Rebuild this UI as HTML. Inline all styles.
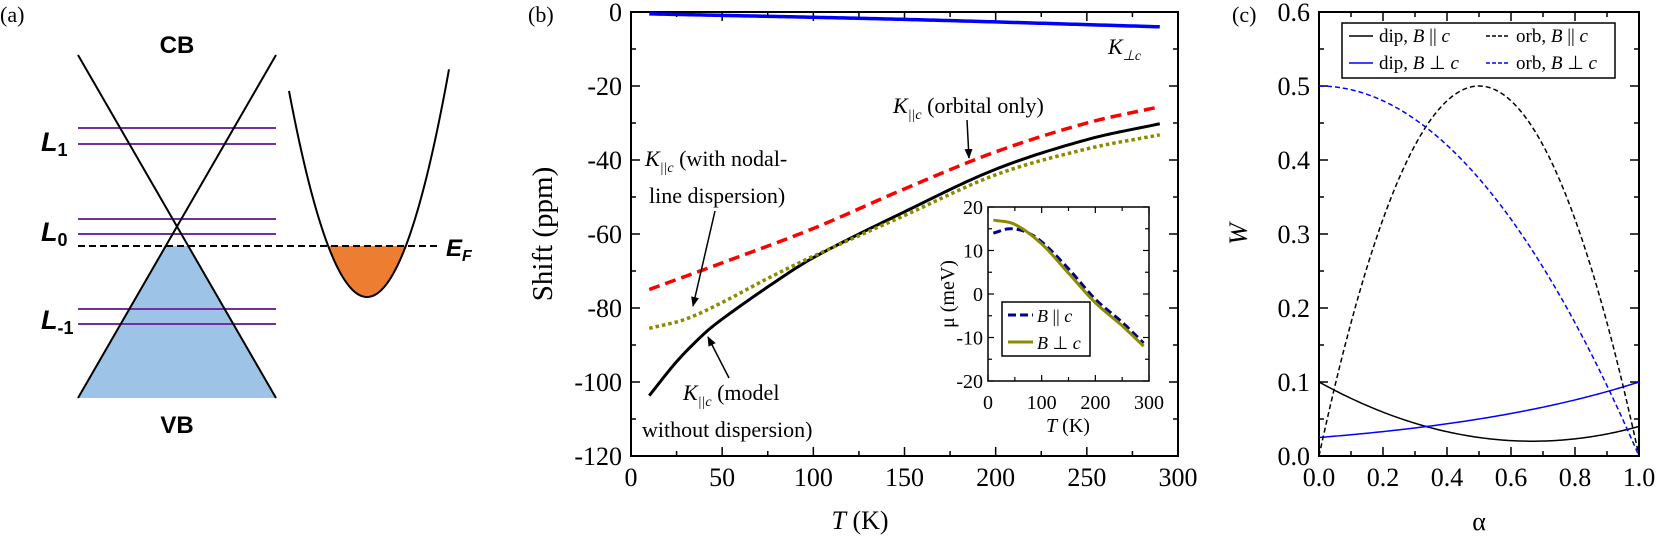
<!DOCTYPE html>
<html><head><meta charset="utf-8"><style>
html,body{margin:0;padding:0;background:#fff;}
svg{display:block;}
.s{font-family:"Liberation Serif",serif;}
.a{font-family:"Liberation Sans",sans-serif;font-weight:bold;}
</style></head><body>
<svg id="svg" width="1661" height="539" viewBox="0 0 1661 539" xmlns="http://www.w3.org/2000/svg">
<defs>
<marker id="ar" markerWidth="10" markerHeight="10" refX="9" refY="5" orient="auto" markerUnits="userSpaceOnUse">
<path d="M0,1 L10,5 L0,9 Z" fill="#000"/></marker>
</defs>
<!-- Panel a -->
<text x="0" y="22" class="s" font-size="22">(a)</text>
<polygon points="166,246 188,246 276,398 78,398" fill="#9dc3e6"/>
<g stroke="#7030a0" stroke-width="2">
<line x1="78" y1="128" x2="276" y2="128"/><line x1="78" y1="144" x2="276" y2="144"/>
<line x1="78" y1="219" x2="276" y2="219"/><line x1="78" y1="234" x2="276" y2="234"/>
<line x1="78" y1="309" x2="276" y2="309"/><line x1="78" y1="324" x2="276" y2="324"/>
</g>
<g stroke="#000" stroke-width="2" fill="none">
<line x1="78" y1="55" x2="276" y2="398"/>
<line x1="276" y1="55" x2="78" y2="398"/>
</g>
<path id="orange" fill="#ed7d31" stroke="none"/>
<path id="parab" fill="none" stroke="#000" stroke-width="2"/>
<line x1="78" y1="246" x2="441" y2="246" stroke="#000" stroke-width="2" stroke-dasharray="7,4"/>
<text x="177" y="53" class="a" font-size="24" text-anchor="middle">CB</text>
<text x="177" y="433" class="a" font-size="24" text-anchor="middle">VB</text>
<text x="41" y="151" class="a" font-size="27" font-style="italic">L<tspan font-size="18" font-style="normal" dy="5">1</tspan></text>
<text x="41" y="241" class="a" font-size="27" font-style="italic">L<tspan font-size="18" font-style="normal" dy="5">0</tspan></text>
<text x="41" y="329" class="a" font-size="27" font-style="italic">L<tspan font-size="18" font-style="normal" dy="5">-1</tspan></text>
<text x="446" y="256" class="a" font-size="24" font-style="italic">E<tspan font-size="16" dy="5">F</tspan></text>

<!-- Panel b -->
<text x="528" y="22" class="s" font-size="22">(b)</text>
<g id="bax"></g>
<rect x="631" y="12" width="547" height="444" fill="none" stroke="#000" stroke-width="2"/>
<text transform="translate(552,234) rotate(-90)" class="s" font-size="29" text-anchor="middle">Shift (ppm)</text>
<text x="860" y="529" class="s" font-size="26" text-anchor="middle"><tspan font-style="italic">T</tspan> (K)</text>
<path id="bBlue" fill="none" stroke="#0000ff" stroke-width="3.5"/>
<path id="bRed" fill="none" stroke="#ff0000" stroke-width="3.5" stroke-dasharray="11,6"/>
<path id="bBlack" fill="none" stroke="#000" stroke-width="3"/>
<path id="bOlive" fill="none" stroke="#8b8b00" stroke-width="3.5" stroke-dasharray="3.5,3"/>
<text x="1108" y="54" class="s" font-size="22" font-style="italic">K<tspan font-size="14" dy="6">⊥c</tspan></text>
<text x="893" y="113" class="s" font-size="22"><tspan font-style="italic">K</tspan><tspan font-size="14" font-style="italic" dy="6">||c</tspan><tspan dy="-6"> (orbital only)</tspan></text>
<line x1="967" y1="120" x2="969" y2="158" stroke="#000" stroke-width="1.5" marker-end="url(#ar)"/>
<text x="645" y="166" class="s" font-size="22"><tspan font-style="italic">K</tspan><tspan font-size="14" font-style="italic" dy="6">||c</tspan><tspan dy="-6"> (with nodal-</tspan></text>
<text x="649" y="203" class="s" font-size="22">line dispersion)</text>
<line x1="715" y1="211" x2="693" y2="306" stroke="#000" stroke-width="1.5" marker-end="url(#ar)"/>
<text x="683" y="400" class="s" font-size="22"><tspan font-style="italic">K</tspan><tspan font-size="14" font-style="italic" dy="6">||c</tspan><tspan dy="-6"> (model</tspan></text>
<text x="642" y="437" class="s" font-size="22">without dispersion)</text>
<line x1="729" y1="378" x2="708" y2="337" stroke="#000" stroke-width="1.5" marker-end="url(#ar)"/>

<!-- inset -->
<rect x="988" y="207" width="161" height="174" fill="#fff" stroke="#000" stroke-width="1.5"/>
<g id="iax"></g>
<path id="iBlue" fill="none" stroke="#00008b" stroke-width="3" stroke-dasharray="8,4"/>
<path id="iOlive" fill="none" stroke="#8b8b00" stroke-width="3"/>
<text transform="translate(954,294) rotate(-90)" class="s" font-size="20" text-anchor="middle">μ (meV)</text>
<text x="1068" y="432" class="s" font-size="20" text-anchor="middle"><tspan font-style="italic">T</tspan> (K)</text>
<rect x="1002" y="302" width="88" height="54" fill="#fff" stroke="#000" stroke-width="1.5"/>
<line x1="1008" y1="315" x2="1033" y2="315" stroke="#00008b" stroke-width="3" stroke-dasharray="8,4"/>
<line x1="1008" y1="342" x2="1033" y2="342" stroke="#8b8b00" stroke-width="3"/>
<text x="1037" y="322" class="s" font-size="18"><tspan font-style="italic">B</tspan> || <tspan font-style="italic">c</tspan></text>
<text x="1037" y="349" class="s" font-size="18"><tspan font-style="italic">B</tspan> ⊥ <tspan font-style="italic">c</tspan></text>

<!-- Panel c -->
<text x="1232" y="22" class="s" font-size="22">(c)</text>
<g id="cax"></g>
<rect x="1319" y="12" width="320" height="444" fill="none" stroke="#000" stroke-width="2"/>
<text transform="translate(1247,234) rotate(-90)" class="s" font-size="26" font-style="italic" text-anchor="middle">W</text>
<text x="1479" y="530" class="s" font-size="26" text-anchor="middle">α</text>
<path id="c1" fill="none" stroke="#000" stroke-width="1.5"/>
<path id="c2" fill="none" stroke="#0000ff" stroke-width="1.5"/>
<path id="c3" fill="none" stroke="#000" stroke-width="1.5" stroke-dasharray="5,3"/>
<path id="c4" fill="none" stroke="#0000ff" stroke-width="1.5" stroke-dasharray="5,3"/>
<rect x="1342" y="23" width="273" height="55" fill="#fff" stroke="#000" stroke-width="1.5"/>
<line x1="1349" y1="36" x2="1373" y2="36" stroke="#000" stroke-width="1.5"/>
<line x1="1349" y1="63" x2="1373" y2="63" stroke="#0000ff" stroke-width="1.5"/>
<line x1="1486" y1="36" x2="1510" y2="36" stroke="#000" stroke-width="1.5" stroke-dasharray="4,2"/>
<line x1="1486" y1="63" x2="1510" y2="63" stroke="#0000ff" stroke-width="1.5" stroke-dasharray="4,2"/>
<text x="1379" y="42" class="s" font-size="19">dip, <tspan font-style="italic">B</tspan> || <tspan font-style="italic">c</tspan></text>
<text x="1379" y="69" class="s" font-size="19">dip, <tspan font-style="italic">B</tspan> ⊥ <tspan font-style="italic">c</tspan></text>
<text x="1516" y="42" class="s" font-size="19">orb, <tspan font-style="italic">B</tspan> || <tspan font-style="italic">c</tspan></text>
<text x="1516" y="69" class="s" font-size="19">orb, <tspan font-style="italic">B</tspan> ⊥ <tspan font-style="italic">c</tspan></text>
</svg>
<script>
var NS="http://www.w3.org/2000/svg";
function el(p,t,a,txt){var e=document.createElementNS(NS,t);for(var k in a)e.setAttribute(k,a[k]);if(txt!==undefined)e.textContent=txt;p.appendChild(e);return e;}
function fpath(f,x0,x1,n){var d="";for(var i=0;i<=n;i++){var x=x0+(x1-x0)*i/n;var p=f(x);d+=(i?"L":"M")+p[0].toFixed(2)+","+p[1].toFixed(2);}return d;}
function spline(pts){
 return function(x){for(var i=0;i<pts.length-1;i++){if(x<=pts[i+1][0]||i==pts.length-2){var p0=pts[Math.max(i-1,0)],p1=pts[i],p2=pts[i+1],p3=pts[Math.min(i+2,pts.length-1)];
 var t=(x-p1[0])/(p2[0]-p1[0]);var m1=(p2[1]-p0[1])/(p2[0]-p0[0])*(p2[0]-p1[0]);var m2=(p3[1]-p1[1])/(p3[0]-p1[0])*(p2[0]-p1[0]);
 var t2=t*t,t3=t2*t;return (2*t3-3*t2+1)*p1[1]+(t3-2*t2+t)*m1+(-2*t3+3*t2)*p2[1]+(t3-t2)*m2;}}};}
var k=206/6084;
document.getElementById("parab").setAttribute("d",fpath(function(x){return [x,297-k*(x-367)*(x-367)];},289,449,80));
var od="";for(var i=0;i<=60;i++){var x=328.2+77.6*i/60;od+=(i?"L":"M")+x.toFixed(2)+","+(Math.max(246,297-k*(x-367)*(x-367))).toFixed(2);}od+="Z";
document.getElementById("orange").setAttribute("d",od);
var bx=function(T){return 631+T*547/300;},by=function(S){return 12-S*3.7;};
var g=document.getElementById("bax");
for(var T=0;T<=300;T+=25){var maj=T%50==0;var L=maj?9:5;
 el(g,"line",{x1:bx(T),x2:bx(T),y1:456,y2:456-L,stroke:"#000","stroke-width":1.5});
 el(g,"line",{x1:bx(T),x2:bx(T),y1:12,y2:12+L,stroke:"#000","stroke-width":1.5});
 if(maj)el(g,"text",{x:bx(T),y:486,"text-anchor":"middle","font-size":26,"class":"s"},T);}
for(var S=0;S>=-120;S-=10){var maj=S%20==0;var L=maj?9:5;
 el(g,"line",{x1:631,x2:631+L,y1:by(S),y2:by(S),stroke:"#000","stroke-width":1.5});
 el(g,"line",{x1:1178,x2:1178-L,y1:by(S),y2:by(S),stroke:"#000","stroke-width":1.5});
 if(maj)el(g,"text",{x:622,y:by(S)+9,"text-anchor":"end","font-size":26,"class":"s"},S);}
function bcurve(id,pts){var f=spline(pts);document.getElementById(id).setAttribute("d",fpath(function(T){return [bx(T),by(f(T))];},pts[0][0],pts[pts.length-1][0],140));}
bcurve("bBlue",[[10,-0.5],[150,-2],[290,-4]]);
bcurve("bRed",[[10,-75],[50,-67.8],[100,-58.5],[150,-47.8],[200,-37.8],[250,-30],[290,-25.6]]);
bcurve("bBlack",[[10,-103.7],[25,-94.5],[40,-87],[50,-83],[75,-74.3],[100,-66.4],[150,-54],[200,-42.5],[250,-34.5],[290,-30.2]]);
bcurve("bOlive",[[10,-85.5],[30,-83],[50,-78.5],[75,-72],[100,-66],[150,-55],[200,-44],[250,-37],[290,-33.2]]);
var ix=function(T){return 988+T*161/300;},iy=function(m){return 294-m*4.35;};
var gi=document.getElementById("iax");
for(var T=0;T<=300;T+=50){var maj=T%100==0;var L=maj?6:4;
 el(gi,"line",{x1:ix(T),x2:ix(T),y1:381,y2:381-L,stroke:"#000","stroke-width":1.2});
 el(gi,"line",{x1:ix(T),x2:ix(T),y1:207,y2:207+L,stroke:"#000","stroke-width":1.2});
 if(maj)el(gi,"text",{x:ix(T),y:409,"text-anchor":"middle","font-size":20,"class":"s"},T);}
for(var m=-20;m<=20;m+=5){var maj=m%10==0;var L=maj?6:4;
 el(gi,"line",{x1:988,x2:988+L,y1:iy(m),y2:iy(m),stroke:"#000","stroke-width":1.2});
 el(gi,"line",{x1:1149,x2:1149-L,y1:iy(m),y2:iy(m),stroke:"#000","stroke-width":1.2});
 if(maj)el(gi,"text",{x:983,y:iy(m)+7,"text-anchor":"end","font-size":20,"class":"s"},m);}
function icurve(id,pts){var f=spline(pts);document.getElementById(id).setAttribute("d",fpath(function(T){return [ix(T),iy(f(T))];},pts[0][0],pts[pts.length-1][0],100));}
icurve("iBlue",[[10,14],[40,15],[70,14.3],[100,12],[150,5.8],[200,-1.2],[250,-6.5],[290,-11.3]]);
icurve("iOlive",[[10,17],[50,16],[100,11.5],[150,4.8],[200,-2],[250,-7.3],[290,-12]]);
var cx=function(a){return 1319+a*320;},cy=function(w){return 456-w*740;};
var gc=document.getElementById("cax");
for(var i=0;i<=10;i++){var a=i/10;var maj=i%2==0;var L=maj?9:5;
 el(gc,"line",{x1:cx(a),x2:cx(a),y1:456,y2:456-L,stroke:"#000","stroke-width":1.5});
 el(gc,"line",{x1:cx(a),x2:cx(a),y1:12,y2:12+L,stroke:"#000","stroke-width":1.5});
 if(maj)el(gc,"text",{x:cx(a),y:486,"text-anchor":"middle","font-size":26,"class":"s"},a.toFixed(1));}
for(var i=0;i<=12;i++){var w=i/20;var maj=i%2==0;var L=maj?9:5;
 el(gc,"line",{x1:1319,x2:1319+L,y1:cy(w),y2:cy(w),stroke:"#000","stroke-width":1.5});
 el(gc,"line",{x1:1639,x2:1639-L,y1:cy(w),y2:cy(w),stroke:"#000","stroke-width":1.5});
 if(maj)el(gc,"text",{x:1310,y:cy(w)+9,"text-anchor":"end","font-size":26,"class":"s"},w.toFixed(1));}
function cc(id,f){document.getElementById(id).setAttribute("d",fpath(function(a){return [cx(a),cy(f(a))];},0,1,120));}
cc("c1",function(a){return 0.18*(a-0.667)*(a-0.667)+0.02;});
cc("c2",function(a){return 0.025*Math.pow(4,a);});
cc("c3",function(a){return 2*a*(1-a);});
cc("c4",function(a){return 0.5*(1-a*a);});
</script>
</body></html>
